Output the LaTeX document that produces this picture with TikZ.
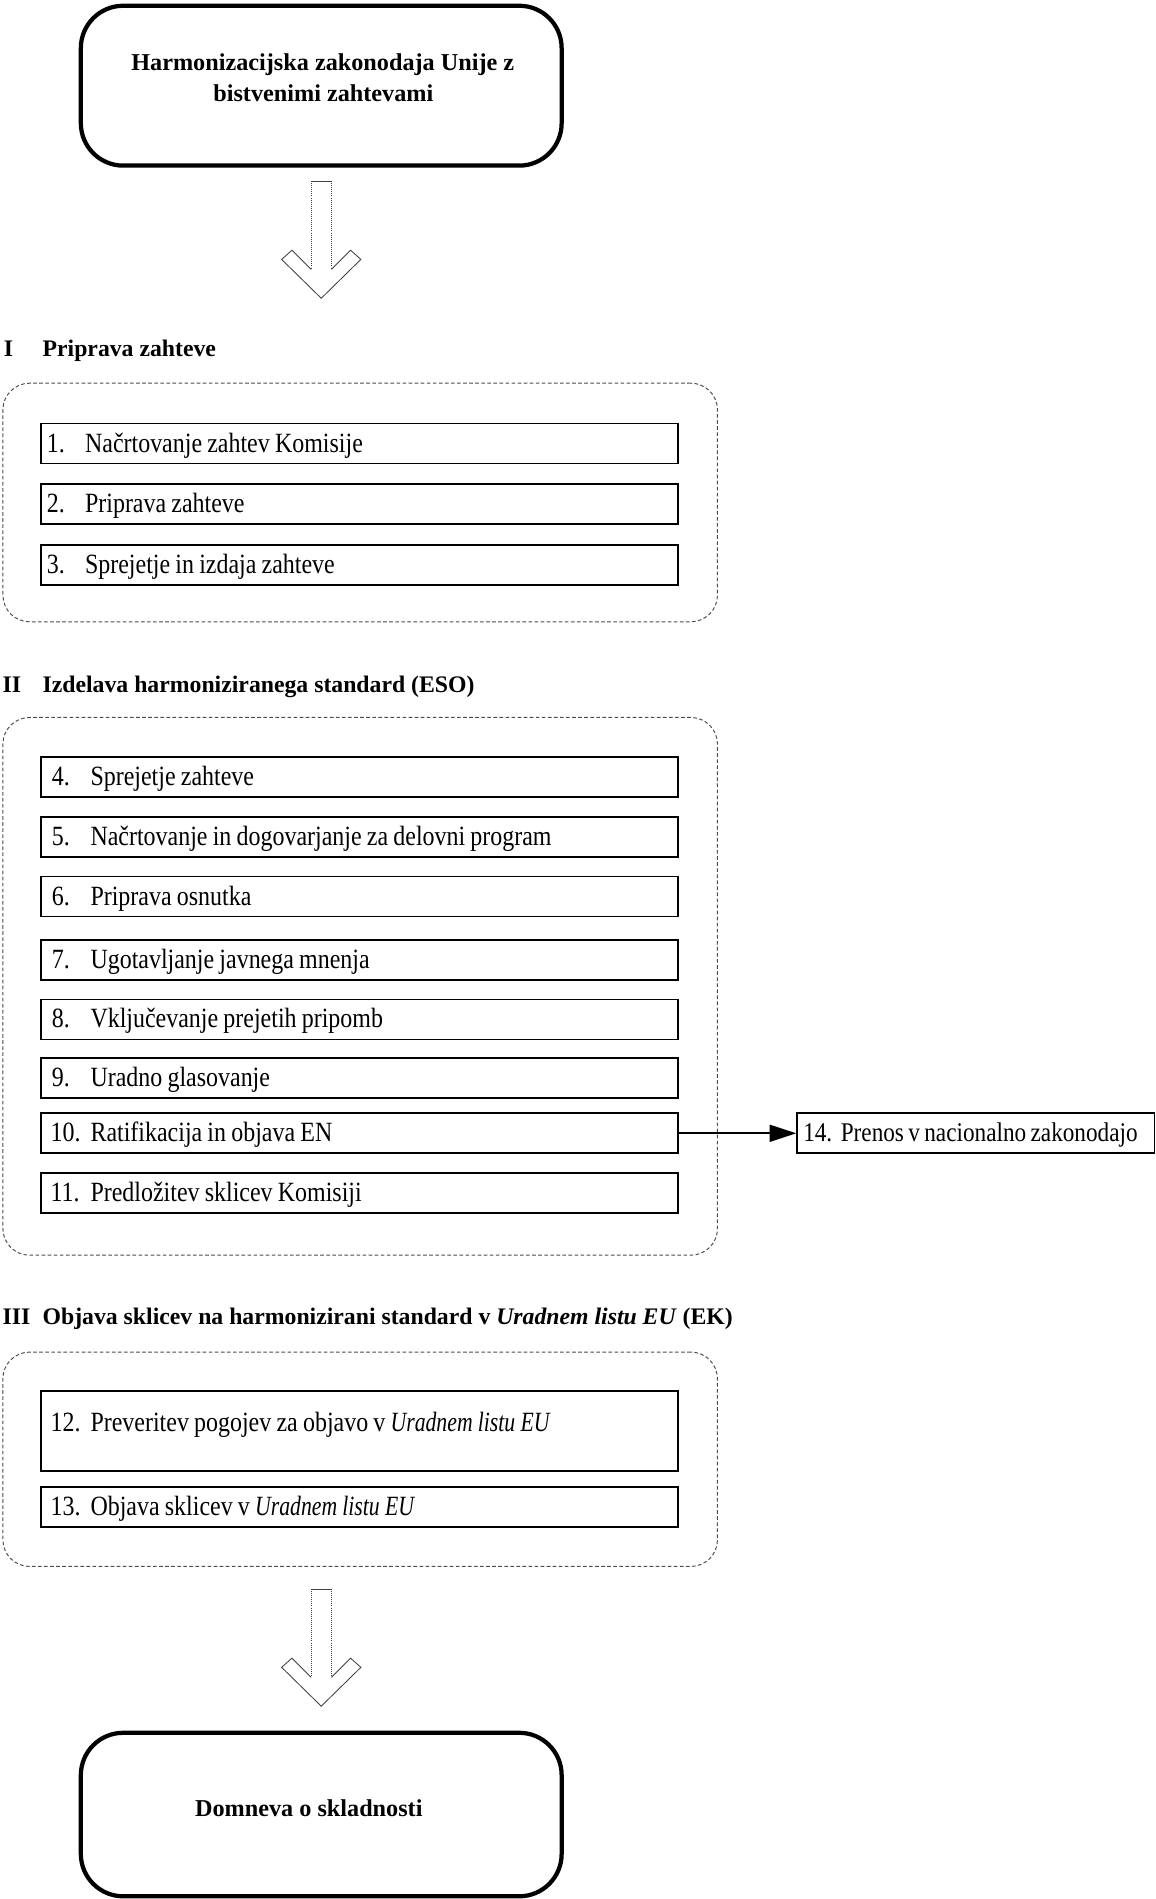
\documentclass[tikz,border=0pt]{standalone}
\usepackage{fontspec}
\setmainfont{Liberation Serif}
\newfontfamily\itemfont[FakeStretch=0.86]{Liberation Serif}
\newfontfamily\itemit[FakeStretch=0.78]{Liberation Serif Italic}
\newcommand\itemsize{\itemfont\fontsize{23}{26}\selectfont\spaceskip=4.3pt\relax}
\newcommand\ul[1]{{\itemit #1}}
\usetikzlibrary{arrows.meta}
\begin{document}
\begin{tikzpicture}[x=1pt,y=-1pt,
  bigbox/.style={draw, line width=3.5pt, rounded corners=35pt, minimum width=397pt, anchor=north west, inner sep=0pt},
  group/.style={draw=black!70, line width=0.8pt, dash pattern=on 3pt off 2pt, rounded corners=22pt, anchor=north west, inner sep=0pt, minimum width=590pt},
  itembox/.style={draw, line width=1.5pt, anchor=north west, minimum height=33pt, text width=516pt, inner xsep=5pt, inner ysep=0pt, align=flush left, font={\itemsize}, text height=16pt, text depth=2pt},
  hdr/.style={anchor=base west, inner sep=0pt, font=\bfseries\fontsize{19.6}{24}\selectfont},
  bigtext/.style={anchor=base, inner sep=0pt, font=\bfseries\fontsize{20}{24}\selectfont},
  hollow/.style={draw=black!75, line width=0.7pt},
  hollowside/.style={draw=black!75, line width=0.7pt, densely dotted},
  hollowarrow/.pic={
    \draw[hollow] (-8.4,72.9) -- (-24.2,57.1) -- (-32.7,64.7) -- (0,96.8) -- (32.7,64.7) -- (24.2,57.1) -- (8.4,72.9);
    \draw[hollow] (-8.4,0) -- (8.4,0);
    \draw[hollowside] (-8.4,0) -- (-8.4,72.9);
    \draw[hollowside] (8.4,0) -- (8.4,72.9);
  },
]
\useasboundingbox (0,0) rectangle (954,1568);

% top box
\node[bigbox, minimum height=132pt] (top) at (65,3) {};
\node[bigtext] (toptextA) at (266.5,58) {Harmonizacijska zakonodaja Unije z};
\node[bigtext] (toptextB) at (267,84) {bistvenimi zahtevami};
\path (top.south) ++(0,11) pic {hollowarrow};

% section I
\node[hdr] (h1num) at (3,294) {I};
\node[hdr] (h1) at (35,294) {Priprava zahteve};
\node[group, minimum height=197pt] (g1) at (2,316) {};
\node[itembox] (i1) at (33,349) {\makebox[31.5pt][l]{1.}Načrtovanje zahtev Komisije};
\node[itembox] (i2) at (33,399) {\makebox[31.5pt][l]{2.}Priprava zahteve};
\node[itembox] (i3) at (33,449) {\makebox[31.5pt][l]{3.}Sprejetje in izdaja zahteve};

% section II
\node[hdr] (h2num) at (2,572) {II};
\node[hdr] (h2) at (35,572) {Izdelava harmoniziranega standard (ESO)};
\node[group, minimum height=444pt] (g2) at (2,592) {};
\node[itembox] (i4) at (33,624.5) {\hspace*{4pt}\makebox[32pt][l]{4.}Sprejetje zahteve};
\node[itembox] (i5) at (33,674) {\hspace*{4pt}\makebox[32pt][l]{5.}Načrtovanje in dogovarjanje za delovni program};
\node[itembox] (i6) at (33,723) {\hspace*{4pt}\makebox[32pt][l]{6.}Priprava osnutka};
\node[itembox] (i7) at (33,775.5) {\hspace*{4pt}\makebox[32pt][l]{7.}Ugotavljanje javnega mnenja};
\node[itembox] (i8) at (33,824.5) {\hspace*{4pt}\makebox[32pt][l]{8.}Vključevanje prejetih pripomb};
\node[itembox] (i9) at (33,873) {\hspace*{4pt}\makebox[32pt][l]{9.}Uradno glasovanje};
\node[itembox] (i10) at (33,918.5) {\hspace*{3pt}\makebox[33pt][l]{10.}Ratifikacija in objava EN};
\node[itembox] (i11) at (33,968) {\hspace*{3pt}\makebox[33pt][l]{11.}Predložitev sklicev Komisiji};

\node[itembox, text width=285pt, font={\itemfont\fontsize{22.3}{26}\selectfont\spaceskip=3.6pt\relax}] (i14) at (657.5,918.5) {\mbox{\makebox[31pt][l]{14.}Prenos v nacionalno zakonodajo}};
\draw[line width=1.5pt, -{Triangle[length=22pt,width=14pt]}] (i10.east) -- (i14.west);

% section III
\node[hdr] (h3num) at (2,1094) {III};
\node[hdr] (h3) at (35,1094) {Objava sklicev na harmonizirani standard v \textit{Uradnem listu EU} (EK)};
\node[group, minimum height=177pt] (g3) at (2,1116) {};
\node[itembox, minimum height=66pt, text height=20pt, text depth=20pt] (i12) at (33,1148) {\hspace*{3pt}\makebox[33pt][l]{12.}Preveritev pogojev za objavo v \ul{Uradnem listu EU}};
\node[itembox] (i13) at (33,1227) {\hspace*{3pt}\makebox[33pt][l]{13.}Objava sklicev v \ul{Uradnem listu EU}};

% bottom box
\node[bigbox, minimum height=135pt] (bottom) at (65,1429) {};
\node[bigtext] (bottomtext) at (255,1500) {Domneva o skladnosti};
\path (bottom.north) ++(0,-117) pic {hollowarrow};
\end{tikzpicture}
\end{document}
